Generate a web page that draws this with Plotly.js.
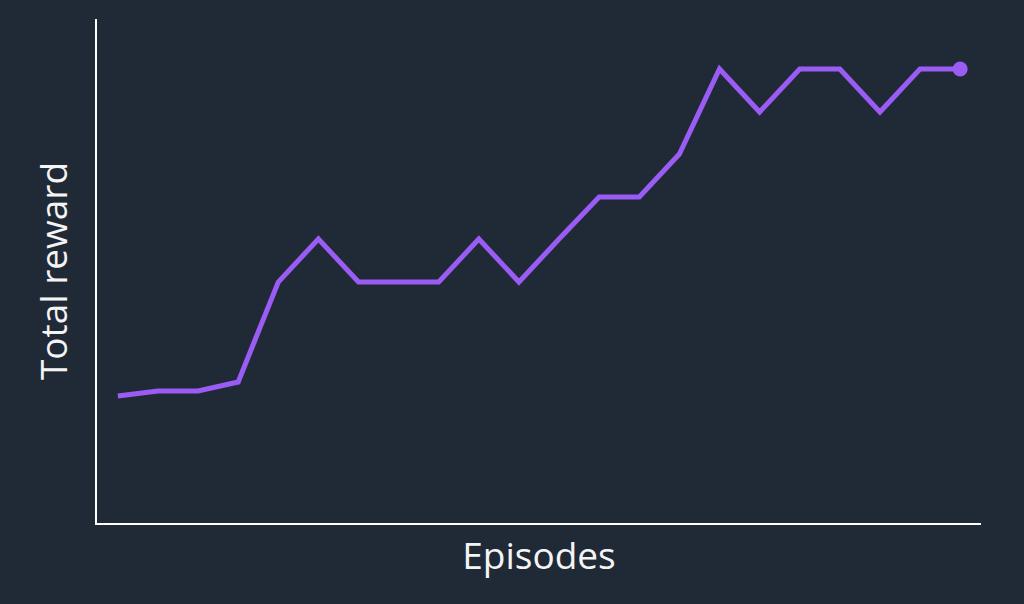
<!DOCTYPE html>
<html>
<head>
<meta charset="utf-8">
<script src="https://cdn.plot.ly/plotly-3.0.1.min.js"></script>
<style>html,body{margin:0;padding:0;background:#202936;}#chart{width:1024px;height:604px;}</style>
</head>
<body>
<div id="chart"></div>
<script>
const episodes = [1,2,3,4,5,6,7,8,9,10,11,12,13,14,15,16,17,18,19,20,21,22];
const totalReward = [127,132,132,141,241,284,241,241,241,284,241,284,326,326,369,454,411,454,454,411,454,454];
const xTitle = "Episodes";
const yTitle = "Total reward";

const lineColor = "#9a5cf5";
const trace = {
  x: episodes,
  y: totalReward,
  type: "scatter",
  mode: "lines",
  line: {color: lineColor, width: 5},
  hoverinfo: "skip"
};
const last = {
  x: [episodes[episodes.length-1]],
  y: [totalReward[totalReward.length-1]],
  type: "scatter",
  mode: "markers",
  marker: {color: lineColor, size: 15},
  hoverinfo: "skip"
};
const layout = {
  width: 1024, height: 604,
  paper_bgcolor: "#202936",
  plot_bgcolor: "#202936",
  showlegend: false,
  margin: {l: 97, r: 43, t: 19, b: 81},
  font: {family: "Open Sans", color: "#f4f4f4"},
  xaxis: {
    range: [episodes[0]-0.52, episodes[episodes.length-1]+0.52],
    showline: true, linecolor: "#ffffff", linewidth: 2,
    showgrid: false, zeroline: false, showticklabels: false, ticks: "",
    title: {text: xTitle, font: {size: 37, color: "#f4f4f4"}, standoff: 19}
  },
  yaxis: {
    range: [0, 504],
    showline: true, linecolor: "#ffffff", linewidth: 2,
    showgrid: false, zeroline: false, showticklabels: false, ticks: "",
    title: {text: yTitle, font: {size: 37, color: "#f4f4f4"}, standoff: 16}
  }
};
Plotly.newPlot("chart", [trace, last], layout, {displayModeBar: false, staticPlot: true});
</script>
</body>
</html>
